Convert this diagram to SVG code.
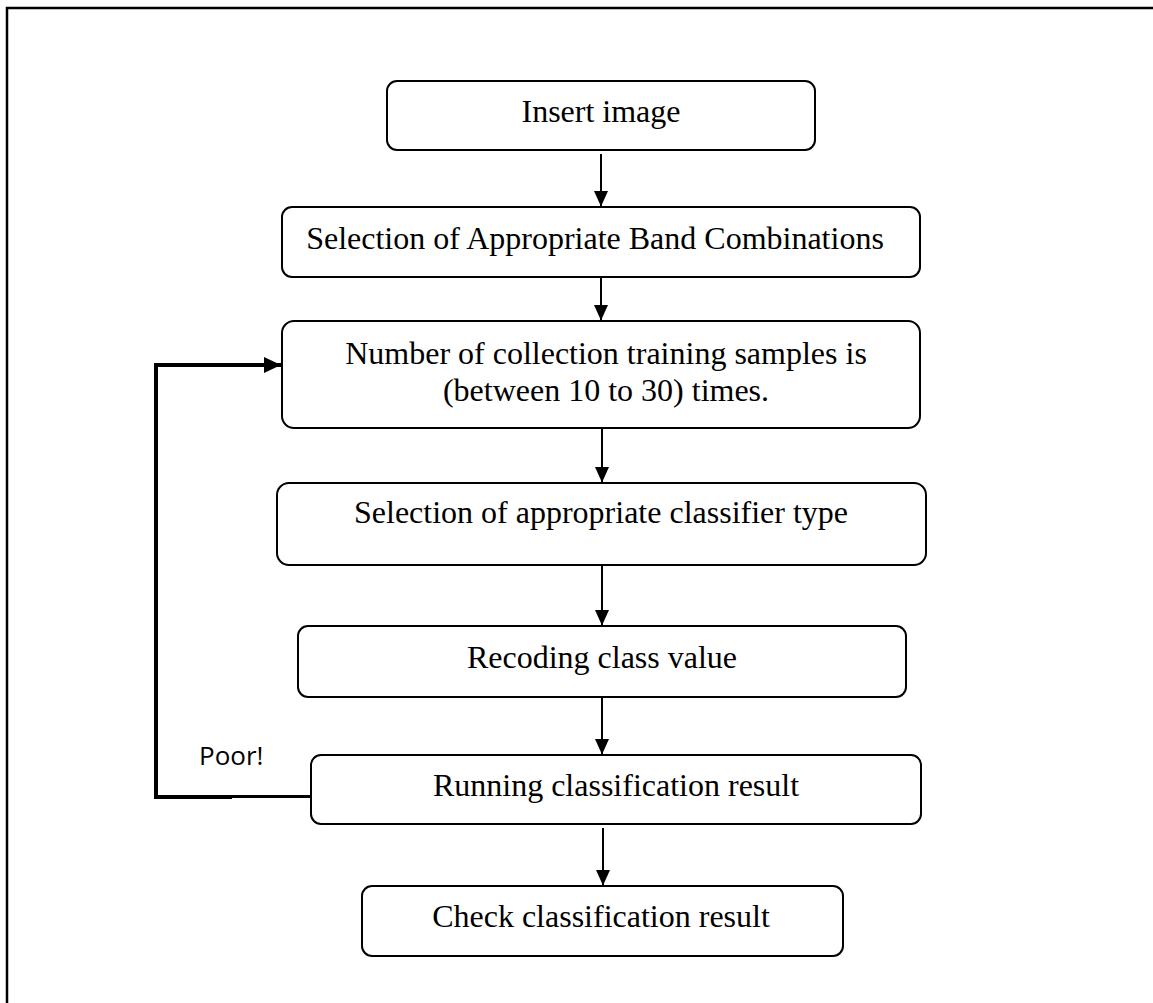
<svg xmlns="http://www.w3.org/2000/svg" width="1153" height="1003" viewBox="0 0 1153 1003">
  <style>
    .box { fill: #ffffff; stroke: #000000; stroke-width: 2; }
    .label { font-family: "Liberation Serif", "Times New Roman", serif; font-size: 32px; fill: #000000; text-anchor: middle; }
    .note { font-family: "Open Sans", "Liberation Sans", sans-serif; font-size: 26px; fill: #000000; }
    .flow { stroke: #000000; stroke-width: 2; fill: none; }
    .loop { stroke: #000000; stroke-width: 4; fill: none; }
  </style>
  <defs>
    <marker id="arrow" markerWidth="16" markerHeight="14" refX="15" refY="7" orient="auto" markerUnits="userSpaceOnUse">
      <path d="M0,0 L15.5,7 L0,14 Z" fill="#000000"/>
    </marker>
    <marker id="arrowBold" markerWidth="18" markerHeight="16" refX="17" refY="8" orient="auto" markerUnits="userSpaceOnUse">
      <path d="M0,0 L17,8 L0,16 Z" fill="#000000"/>
    </marker>
  </defs>

  <rect width="1153" height="1003" fill="#ffffff"/>

  <!-- page frame -->
  <path d="M7,1003 V8 H1153" fill="none" stroke="#000000" stroke-width="2.5"/>

  <g id="insert-image">
    <rect class="box" x="387" y="81" width="428" height="69" rx="10"/>
    <text class="label" x="601" y="122">Insert image</text>
  </g>

  <g id="band-selection">
    <rect class="box" x="282" y="207" width="638" height="70" rx="10"/>
    <text class="label" x="595" y="249">Selection of Appropriate Band Combinations</text>
  </g>

  <g id="training-samples">
    <rect class="box" x="282" y="321" width="638" height="107" rx="12"/>
    <text class="label" x="606" y="364">Number of collection training samples is</text>
    <text class="label" x="606" y="401">(between 10 to 30) times.</text>
  </g>

  <g id="classifier-type">
    <rect class="box" x="277" y="483" width="649" height="82" rx="12"/>
    <text class="label" x="601" y="523">Selection of appropriate classifier type</text>
  </g>

  <g id="recoding">
    <rect class="box" x="298" y="626" width="608" height="71" rx="10"/>
    <text class="label" x="602" y="668">Recoding class value</text>
  </g>

  <g id="running-classification">
    <rect class="box" x="311" y="755" width="610" height="69" rx="10"/>
    <text class="label" x="616" y="796">Running classification result</text>
  </g>

  <g id="check-result">
    <rect class="box" x="362" y="886" width="481" height="70" rx="10"/>
    <text class="label" x="601" y="927">Check classification result</text>
  </g>

  <g id="connectors">
    <line class="flow" x1="601" y1="154" x2="601" y2="206" marker-end="url(#arrow)"/>
    <line class="flow" x1="601" y1="277" x2="601" y2="320" marker-end="url(#arrow)"/>
    <line class="flow" x1="602" y1="428" x2="602" y2="482" marker-end="url(#arrow)"/>
    <line class="flow" x1="602" y1="565" x2="602" y2="625" marker-end="url(#arrow)"/>
    <line class="flow" x1="602" y1="697" x2="602" y2="754" marker-end="url(#arrow)"/>
    <line class="flow" x1="603" y1="828" x2="603" y2="885" marker-end="url(#arrow)"/>

    <!-- feedback loop back to sample collection -->
    <line x1="232" y1="796.5" x2="311" y2="796.5" stroke="#000000" stroke-width="3"/>
    <path class="loop" d="M232,797 H156 V365 H281" marker-end="url(#arrowBold)"/>
    <text class="note" x="199" y="765">Poor!</text>
  </g>
</svg>
